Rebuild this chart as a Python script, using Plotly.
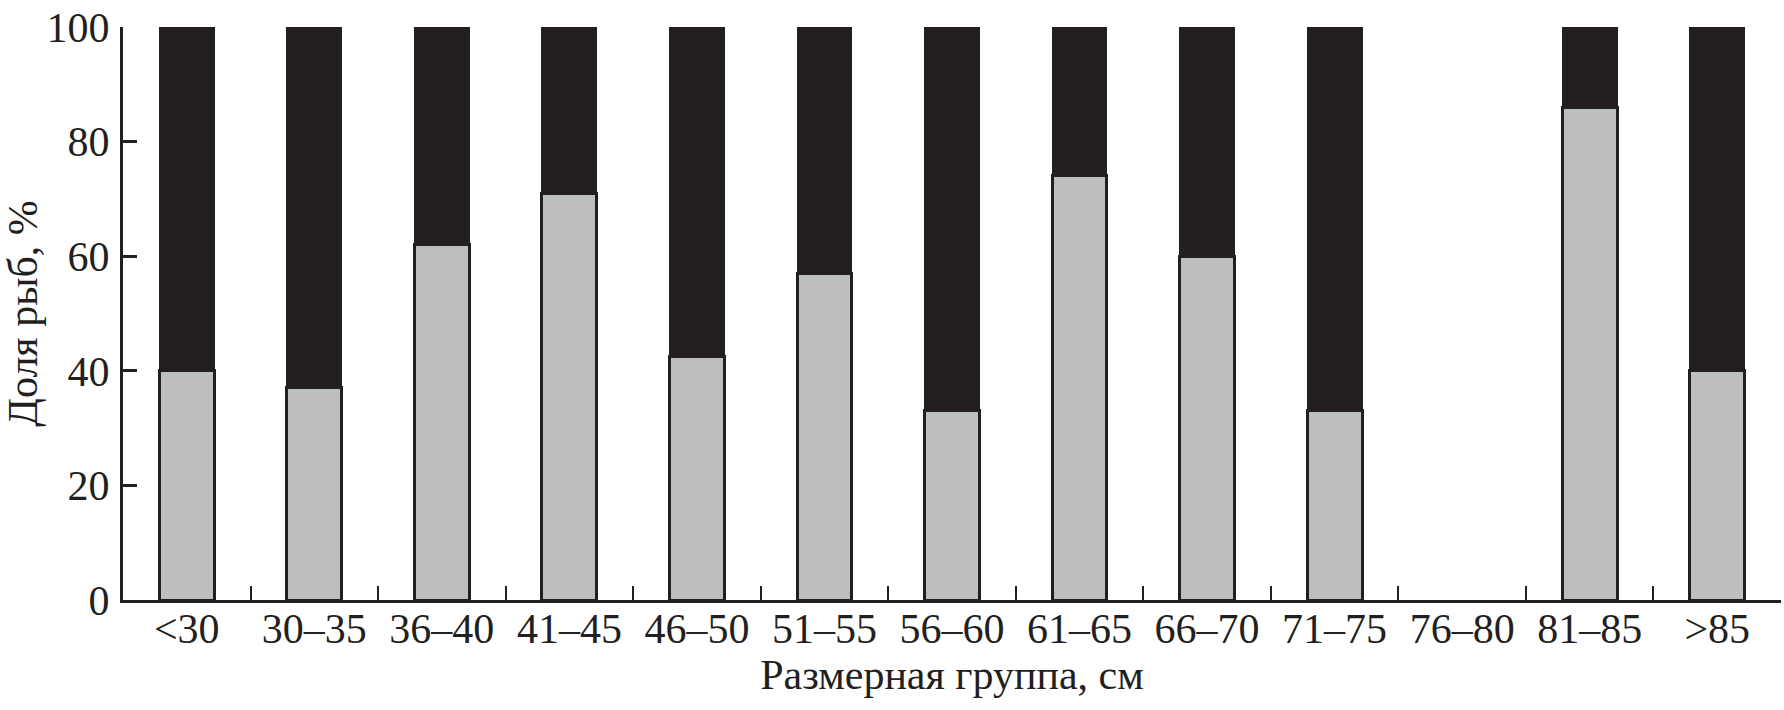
import plotly.graph_objects as go

categories = ["<30", "30–35", "36–40", "41–45", "46–50", "51–55", "56–60",
              "61–65", "66–70", "71–75", "76–80", "81–85", ">85"]
grey_values = [40, 37, 62, 71, 42.5, 57, 33, 74, 60, 33, 0, 86, 40]
black_values = [60, 63, 38, 29, 57.5, 43, 67, 26, 40, 67, 0, 14, 60]
y_ticks = [0, 20, 40, 60, 80, 100]

DARK = "#231f20"
GREY = "#bcbec0"
FONT = "Liberation Serif"

# no outline on empty bars
grey_lw = [3 if v > 0 else 0 for v in grey_values]
black_lw = [1 if v > 0 else 0 for v in black_values]

fig = go.Figure()
fig.add_trace(go.Bar(
    x=categories, y=grey_values, width=0.43,
    marker=dict(color=GREY, line=dict(color=DARK, width=grey_lw)),
    showlegend=False,
))
fig.add_trace(go.Bar(
    x=categories, y=black_values, width=0.43,
    marker=dict(color=DARK, line=dict(color=DARK, width=black_lw)),
    showlegend=False,
))

fig.update_layout(
    barmode="stack",
    width=1784, height=710,
    margin=dict(l=123, r=3, t=27, b=110, autoexpand=False),
    plot_bgcolor="white", paper_bgcolor="white",
    font=dict(family=FONT, size=42, color=DARK),
)
fig.update_xaxes(
    type="category", range=[-0.5, 12.5], automargin=False,
    showline=True, linecolor=DARK, linewidth=3,
    ticks="inside", tickson="boundaries", ticklen=14, tickwidth=2, tickcolor=DARK,
    showgrid=False, zeroline=False,
    tickfont=dict(family=FONT, size=42, color=DARK),
    ticklabelstandoff=-10,
    title=dict(text="Размерная группа, см", font=dict(family=FONT, size=42, color=DARK), standoff=8),
)
fig.update_yaxes(
    range=[0, 100], tickvals=y_ticks, ticktext=[str(v) for v in y_ticks], automargin=False,
    showline=True, linecolor=DARK, linewidth=3,
    ticks="inside", ticklen=14, tickwidth=2.5, tickcolor=DARK,
    showgrid=False, zeroline=False,
    tickfont=dict(family=FONT, size=42, color=DARK),
    ticklabelstandoff=2,
    title=dict(text="Доля рыб, %", font=dict(family=FONT, size=42, color=DARK), standoff=4),
)

fig.write_html(
    "out.html",
    config={"displayModeBar": False},
    post_script="document.body.style.margin='0';document.body.style.overflow='hidden';",
)
